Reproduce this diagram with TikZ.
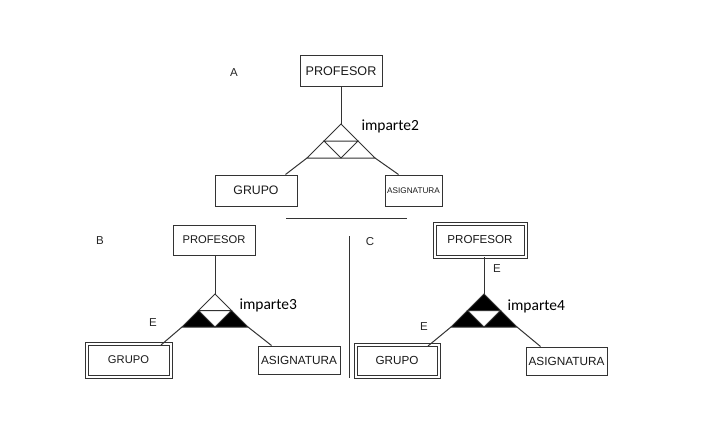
\documentclass[tikz,border=0pt]{standalone}
\usepackage{fontspec}
\setmainfont{Liberation Sans}
\newfontfamily\labfont{Carlito}
\usepackage{tikz}
\usetikzlibrary{calc,positioning}

\begin{document}
\begin{tikzpicture}[x=1pt, y=-1pt, line width=1pt, color=black!80]
   \useasboundingbox (0,0) rectangle (705,423);
   % entity boxes
   \begin{scope}[every node/.style={draw, inner sep=0pt, text=black!90}]
    \node (prof1) [minimum width=82, minimum height=31, font=\fontsize{12.6}{14}\selectfont] at (341,71) {PROFESOR};
    \node (grupo1) [minimum width=82, minimum height=31, font=\fontsize{12.3}{14}\selectfont] at (256,190.5) {GRUPO};
    \node (asig1) [minimum width=57, minimum height=31, font=\fontsize{8.2}{9}\selectfont] at (413.5,190.5) {ASIGNATURA};
    \node (prof2) [minimum width=82, minimum height=30, font=\fontsize{11.2}{13}\selectfont] at (214,240) {PROFESOR};
    \node (grupo2) [double, double distance=2pt, minimum width=84, minimum height=33, font=\fontsize{11.2}{13}\selectfont] at (128.5,360) {GRUPO};
    \node (asig2) [minimum width=82, minimum height=28, font=\fontsize{11.8}{13}\selectfont] at (299,360) {ASIGNATURA};
    \node (prof3) [double, double distance=2pt, minimum width=91, minimum height=33, font=\fontsize{11.6}{13}\selectfont] at (480,240) {PROFESOR};
    \node (grupo3) [double, double distance=2pt, minimum width=83, minimum height=32, font=\fontsize{11.7}{13}\selectfont] at (397,360.5) {GRUPO};
    \node (asig3) [minimum width=81, minimum height=28, font=\fontsize{11.8}{13}\selectfont] at (566.5,361) {ASIGNATURA};
   \end{scope}
   % relationship triangles
   \coordinate (tA) at (341,124); \coordinate (lA) at (307,158); \coordinate (rA) at (375,158);
   \coordinate (tB) at (215,294); \coordinate (lB) at (182,327); \coordinate (rB) at (248,327);
   \coordinate (tC) at (484,294); \coordinate (lC) at (451,327); \coordinate (rC) at (517,327);
   \foreach \t in {A,B,C} {
    \coordinate (ml\t) at ($(t\t)!0.5!(l\t)$);
    \coordinate (mr\t) at ($(t\t)!0.5!(r\t)$);
    \coordinate (bc\t) at ($(l\t)!0.5!(r\t)$);
   }
   \fill[black] (lB) -- (mlB) -- (bcB) -- cycle;
   \fill[black] (bcB) -- (mrB) -- (rB) -- cycle;
   \fill[black] (tC) -- (lC) -- (rC) -- cycle;
   \fill[white] (mlC) -- (mrC) -- (bcC) -- cycle;
   \foreach \t in {A,B,C} {
    \draw (t\t) -- (l\t) -- (r\t) -- cycle;
    \draw (ml\t) -- (mr\t) -- (bc\t) -- cycle;
   }
   % connectors
   \draw (prof1.south) -- (tA);
   \draw (lA) -- ([xshift=-12pt]grupo1.north east);
   \draw (rA) -- ([xshift=14pt]asig1.north west);
   \draw (tB |- prof2.south) -- (tB);
   \draw (lB) -- ([xshift=-10pt, yshift=-2pt]grupo2.north east);
   \draw (rB) -- ([xshift=14pt]asig2.north west);
   \draw (tC |- prof3.south) -- (tC);
   \draw (lC) -- ([xshift=-11pt, yshift=-2pt]grupo3.north east);
   \draw (rC) -- ([xshift=15pt]asig3.north west);
   % separators
   \draw (286,218) -- (407,218);
   \draw (349,236) -- (349,378);
   % labels
   \begin{scope}[every node/.style={text=black!85, inner sep=0pt, font=\fontsize{11.5}{13}\selectfont}]
    \node (la) at (234,73) {A};
    \node (lb) at (100,241) {B};
    \node (lc) at (370,242) {C};
    \node (e1) at (153,323) {E};
    \node (e2) at (497,269) {E};
    \node (e3) at (424,327) {E};
   \end{scope}
   \begin{scope}[every node/.style={text=black, inner sep=0pt, anchor=west, font=\labfont\fontsize{15.5}{17}\selectfont}]
    \node (r2) at (361,126) {imparte2};
    \node (r3) at (239,305) {imparte3};
    \node (r4) at (507,306) {imparte4};
   \end{scope}
\end{tikzpicture}
\end{document}
